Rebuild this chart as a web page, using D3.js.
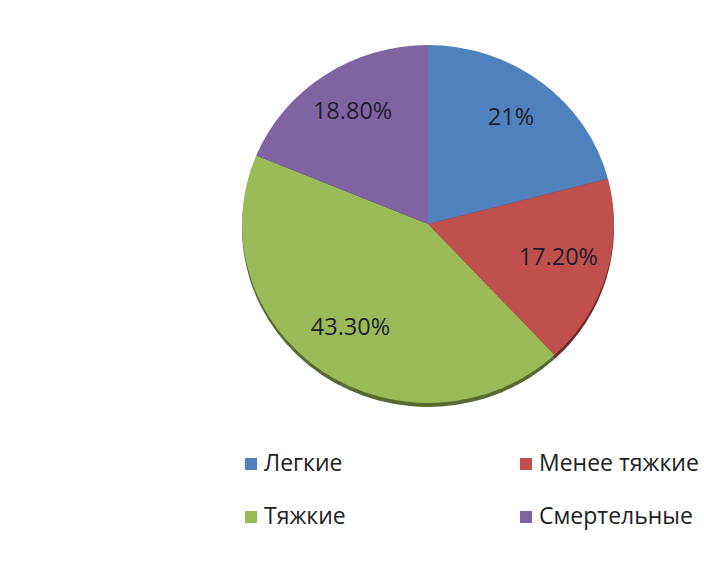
<!DOCTYPE html>
<html><head><meta charset="utf-8">
<script src="https://cdn.jsdelivr.net/npm/d3@7"></script>
<style>
html,body{margin:0;padding:0;background:#fff;}
text{font-family:"Open Sans","Noto Sans",sans-serif;}
</style></head>
<body>
<svg id="chart" width="704" height="562"></svg>
<script>
const categories = ["Легкие", "Менее тяжкие", "Тяжкие", "Смертельные"];
const values = [21, 17.2, 43.3, 18.8];
const labels = ["21%", "17.20%", "43.30%", "18.80%"];
const colors = ["#4F81BD", "#C0504D", "#9BBB59", "#8064A2"];

const svg = d3.select("#chart");
const cx = 428, cy = 224, R = 186, sy = 0.962;

const pie = d3.pie().sort(null).value(d => d)(values);
const arc = d3.arc().innerRadius(0).outerRadius(R);
const labelArc = d3.arc().innerRadius(R * 0.73).outerRadius(R * 0.73);

// shadow
const shadow = svg.append("g").attr("transform", `translate(${cx},${cy + 4}) scale(1,${sy})`);
shadow.selectAll("path").data(pie).join("path")
  .attr("d", arc)
  .attr("fill", (d, i) => d3.color(colors[i]).darker(1.6));

const g = svg.append("g").attr("transform", `translate(${cx},${cy}) scale(1,${sy})`);
g.selectAll("path").data(pie).join("path")
  .attr("d", arc)
  .attr("fill", (d, i) => colors[i]);

svg.append("g").selectAll("text").data(pie).join("text")
  .attr("x", d => cx + labelArc.centroid(d)[0])
  .attr("y", d => cy + labelArc.centroid(d)[1] * sy - 5)
  .attr("text-anchor", "middle")
  .attr("dominant-baseline", "central")
  .attr("font-size", 23.5)
  .attr("fill", "#1e1e2e")
  .text((d, i) => labels[i]);

// legend
const legX = [245, 520], legY = [470, 523];
const leg = svg.append("g");
categories.forEach((c, i) => {
  const x = legX[i % 2], y = legY[Math.floor(i / 2)];
  leg.append("rect").attr("x", x).attr("y", y - 12).attr("width", 12).attr("height", 12).attr("fill", colors[i]);
  leg.append("text").attr("x", x + 19).attr("y", y + 1).attr("font-size", 23).attr("fill", "#222").text(c);
});
</script>
</body></html>
